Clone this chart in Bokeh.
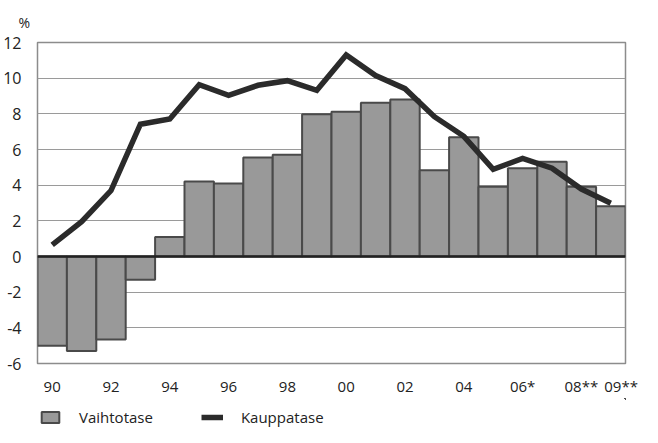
from bokeh.plotting import figure
from bokeh.models import Span, Legend, LegendItem, FixedTicker, ColumnDataSource
from bokeh.layouts import column
from bokeh.embed import file_html
from bokeh.resources import INLINE

years = ["90", "91", "92", "93", "94", "95", "96", "97", "98", "99",
         "00", "01", "02", "03", "04", "05", "06", "07", "08", "09"]
vaihtotase = [-5.0, -5.3, -4.65, -1.3, 1.1, 4.2, 4.1, 5.55, 5.7, 7.97,
              8.12, 8.62, 8.8, 4.83, 6.68, 3.91, 4.95, 5.32, 3.91, 2.82]
kauppatase = [0.65, 1.95, 3.7, 7.42, 7.71, 9.63, 9.04, 9.6, 9.86, 9.32,
              11.3, 10.15, 9.41, 7.84, 6.74, 4.89, 5.5, 4.95, 3.78, 2.99]
tick_years = ["90", "92", "94", "96", "98", "00", "02", "04", "06", "08", "09"]
tick_labels = ["90", "92", "94", "96", "98", "00", "02", "04", "06*", "08**", "09**"]
y_ticks = [-6, -4, -2, 0, 2, 4, 6, 8, 10, 12]
y_labels = ["-6", "-4", "-2", "0", "2", "4", "6", "8", "10", "12"]

FONT = "Open Sans"
TXT = "#222222"
BAR_FILL = "#999999"
BAR_LINE = "#4a4a4a"
LINE_COL = "#2b2b2b"

idx = list(range(len(years)))
src = ColumnDataSource(dict(x=idx, v=vaihtotase, k=kauppatase))

p = figure(width=642, height=398, output_backend="svg", toolbar_location=None,
           x_range=(-0.5, len(years) - 0.5), y_range=(-6, 12),
           min_border_left=30, min_border_right=17, min_border_top=35, min_border_bottom=32)
p.outline_line_color = "#8c8c8c"
p.outline_line_width = 1.5
p.background_fill_color = "white"

p.title.text = "%"
p.title.align = "left"
p.title.offset = -19
p.title.standoff = 21
p.title.text_font = FONT
p.title.text_font_size = "14px"
p.title.text_font_style = "normal"
p.title.text_color = TXT

p.xgrid.visible = False
p.ygrid.grid_line_color = "#9a9a9a"
p.ygrid.grid_line_width = 1.2
p.ygrid.ticker = FixedTicker(ticks=y_ticks)

p.vbar(x="x", top="v", bottom=0, width=1.0, source=src,
       fill_color=BAR_FILL, line_color=BAR_LINE, line_width=2)
p.add_layout(Span(location=0, dimension="width", line_color="#222222", line_width=2.5))
p.line(x="x", y="k", source=src, line_color=LINE_COL, line_width=5.5, line_join="miter")

p.yaxis.ticker = FixedTicker(ticks=y_ticks)
p.yaxis.major_label_overrides = {t: s for t, s in zip(y_ticks, y_labels)}
p.yaxis.axis_line_color = None
p.yaxis.major_tick_line_color = None
p.yaxis.minor_tick_line_color = None
p.yaxis.major_label_standoff = 10
p.yaxis.major_label_text_font = FONT
p.yaxis.major_label_text_font_size = "16px"
p.yaxis.major_label_text_color = TXT

# label of the last year sits a little right of its bar centre, as in the original
tick_pos = [float(years.index(t)) for t in tick_years]
tick_pos[-1] += 0.35
p.xaxis.ticker = FixedTicker(ticks=tick_pos)
p.xaxis.major_label_overrides = {pos: lab for pos, lab in zip(tick_pos, tick_labels)}
p.xaxis.axis_line_color = None
p.xaxis.major_tick_line_color = None
p.xaxis.minor_tick_line_color = None
p.xaxis.major_label_standoff = 6
p.xaxis.major_label_text_font = FONT
p.xaxis.major_label_text_font_size = "15px"
p.xaxis.major_label_text_color = TXT

# legend strip: renderers share the chart data but sit outside this strip's visible range
lg = figure(width=642, height=29, output_backend="svg", toolbar_location=None,
            x_axis_type=None, y_axis_type=None, x_range=(-1000, -999), y_range=(-1000, -999),
            min_border=0, min_border_left=0, min_border_right=0,
            min_border_top=0, min_border_bottom=0)
lg.outline_line_color = None
lg.grid.visible = False
r_bar = lg.vbar(x="x", top="v", width=1.0, source=src,
                fill_color=BAR_FILL, line_color=BAR_LINE, line_width=2)
r_line = lg.line(x="x", y="k", source=src, line_color=LINE_COL, line_width=5.5)
legend = Legend(items=[LegendItem(label="Vaihtotase", renderers=[r_bar]),
                       LegendItem(label="Kauppatase", renderers=[r_line])],
                orientation="horizontal", location=(2, 0),
                label_text_font=FONT, label_text_font_size="15px",
                label_text_color=TXT, label_standoff=18,
                glyph_width=22, glyph_height=14, spacing=48,
                border_line_color=None, background_fill_alpha=0,
                margin=0, padding=0)
lg.add_layout(legend)

layout = column(p, lg, spacing=0)
open("out.html", "w").write(file_html(layout, INLINE))
